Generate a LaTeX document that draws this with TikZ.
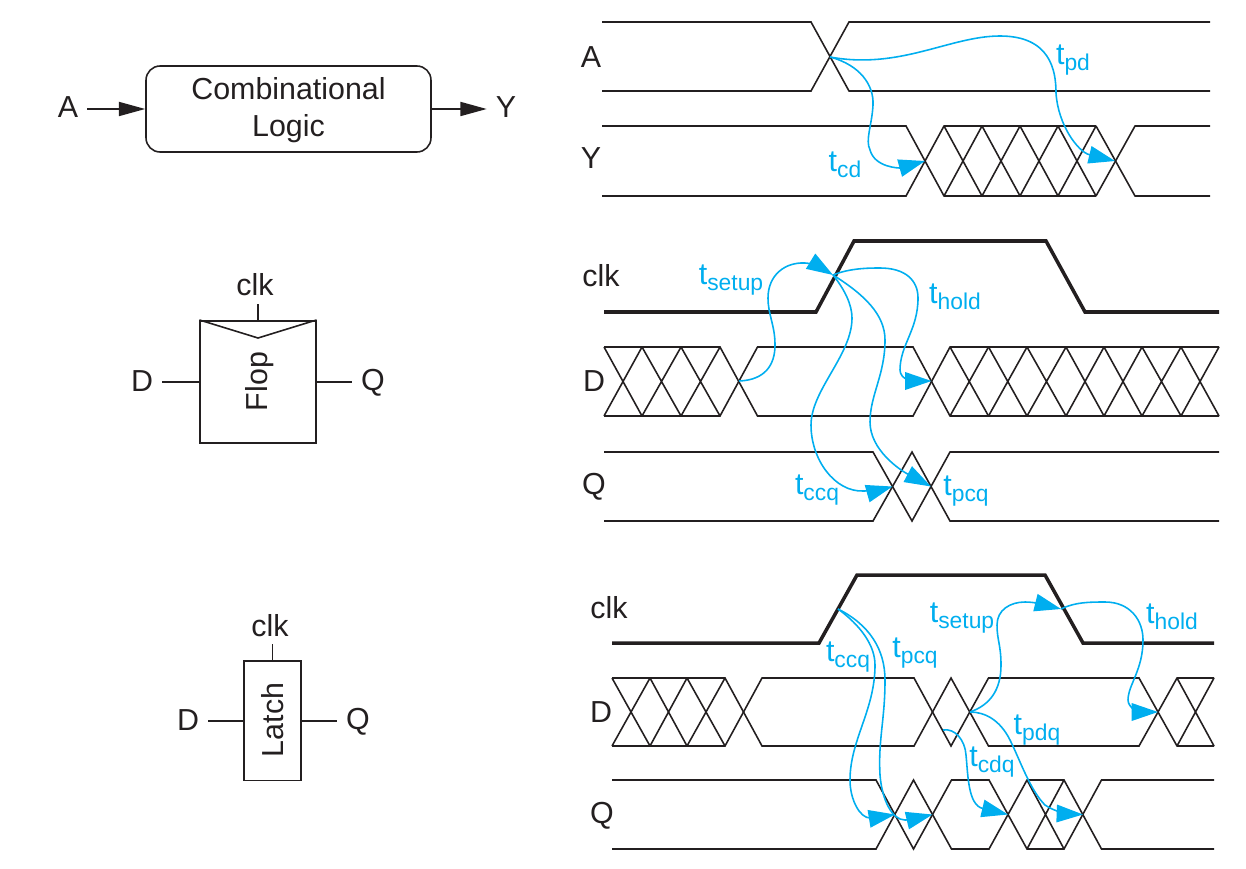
\documentclass[tikz,border=0pt]{standalone}
\usepackage{fontspec}
\usepackage{xcolor}
\usetikzlibrary{arrows.meta}
\setmainfont{Liberation Sans}
\definecolor{inkblack}{HTML}{231F20}
\definecolor{timeblue}{HTML}{00AEEF}
\newcommand{\tlab}[1]{t{\fontsize{13}{14}\selectfont\raisebox{-3.5pt}{#1}}}

\begin{document}
\begin{tikzpicture}[x=0.02cm, y=-0.02cm, color=inkblack, line join=miter,
  every node/.style={font=\fontsize{17.3}{21}\selectfont, inner sep=5pt},
  wave/.style={line width=0.9pt},
  clock/.style={line width=2pt},
  block/.style={draw, line width=0.9pt, align=center},
  arc/.style={timeblue, line width=0.9pt, -{Triangle[length=15pt,width=10pt]}},
  wire/.style={line width=0.9pt},
  tipwire/.style={line width=0.9pt, -{Triangle[length=15pt,width=8pt]}},
  tname/.style={text=timeblue}]
  \useasboundingbox (0,0) rectangle (1246,868);

  % blocks
  \node[block, rounded corners=8pt, minimum width=5.7cm, minimum height=1.72cm] (comb) at (288.5,109) {};
  \node[align=center] (combtext) at (288.5,110.5) {Combinational\\Logic};
  \node (A1) at (68,107) {A};
  \node (Y1) at (506,107) {Y};
  \draw[tipwire] (A1.east |- comb) -- (comb.west);
  \draw[tipwire] (comb.east) -- (Y1.west |- comb);

  \node[block, minimum width=2.31cm, minimum height=2.45cm] (flop) at (258,382) {};
  \node[rotate=90] (floptext) at (259.5,381.5) {Flop};
  \coordinate (notch) at (258,338);
  \draw[wire] (flop.north west) -- (notch) -- (flop.north east);
  \node (clk1) at (255,285) {clk};
  \node (D1) at (142,381) {D};
  \node (Q1) at (373,383) {Q};
  \draw[wire] (258,304) -- (flop.north);
  \draw[wire] (D1.east |- flop) -- (flop.west);
  \draw[wire] (flop.east) -- (Q1.west |- flop);

  \node[block, minimum width=1.14cm, minimum height=2.4cm] (latch) at (272.7,720.7) {};
  \node[rotate=90] (latchtext) at (273,720) {Latch};
  \node (clk2) at (270,626) {clk};
  \node (D2) at (188,720) {D};
  \node (Q2) at (358,722) {Q};
  \draw[wire] (272.7,644) -- (latch.north);
  \draw[wire] (D2.east |- latch) -- (latch.west);
  \draw[wire] (latch.east) -- (Q2.west |- latch);

  % signal names
  \node (Aname) at (591,57) {A};
  \node (Yname) at (591,158) {Y};
  \node (clkname1) at (601,276) {clk};
  \node (Dname1) at (594,381) {D};
  \node (Qname1) at (594,487) {Q};
  \node (clkname2) at (609,608) {clk};
  \node (Dname2) at (601,712) {D};
  \node (Qname2) at (602,816) {Q};

  % first group
  \draw[wave] (602,22) -- (811,22) -- (849,91) -- (1210,91);
  \draw[wave] (602,91) -- (811,91) -- (849,22) -- (1210,22);
  \draw[wave] (602,126) -- (906,126) -- (944,196) -- (1096,196);
  \draw[wave] (602,196) -- (906,196) -- (944,126) -- (1096,126);
  \foreach \a/\b in {944/982,982/1020,1020/1058,1058/1096}
    \draw[wave] (\a,126) -- (\b,196) (\a,196) -- (\b,126);
  \draw[wave] (1096,126) -- (1135,196) -- (1210,196);
  \draw[wave] (1096,196) -- (1135,126) -- (1210,126);

  % second group
  \draw[clock] (604,312) -- (816,312) -- (854,241) -- (1046,241) -- (1085,312) -- (1219,312);
  \draw[wave] (604,347) -- (720,347) -- (757.5,416) -- (913,416) -- (950,347) -- (1219,347);
  \draw[wave] (604,416) -- (720,416) -- (757.5,347) -- (913,347) -- (950,416) -- (1219,416);
  \foreach \a/\b in {604/642,642/681,681/720,950/988.5,988.5/1027,1027/1066,1066/1104,1104/1142,1142/1181,1181/1219}
    \draw[wave] (\a,347) -- (\b,416) (\a,416) -- (\b,347);
  \draw[wave] (604,452) -- (873,452) -- (912,521) -- (950,452) -- (1219,452);
  \draw[wave] (604,521) -- (873,521) -- (912,452) -- (950,521) -- (1219,521);

  % third group
  \draw[clock] (612,643) -- (819,643) -- (857,575) -- (1045,575) -- (1083,643) -- (1214,643);
  \draw[wave] (612,678) -- (725,678) -- (762,746) -- (914,746) -- (951,678) -- (988.5,746) -- (1139,746) -- (1177,678) -- (1214,678);
  \draw[wave] (612,746) -- (725,746) -- (762,678) -- (914,678) -- (951,746) -- (988.5,678) -- (1139,678) -- (1177,746) -- (1214,746);
  \foreach \a/\b in {612/650,650/687,687/725,1177/1214}
    \draw[wave] (\a,678) -- (\b,746) (\a,746) -- (\b,678);
  \draw[wave] (612,780) -- (876,780) -- (913.5,849) -- (951.5,780) -- (989,780) -- (1027,849) -- (1064,849) -- (1101.5,780) -- (1214,780);
  \draw[wave] (612,849) -- (876,849) -- (913.5,780) -- (951.5,849) -- (989,849) -- (1027,780) -- (1064,780) -- (1101.5,849) -- (1214,849);
  \draw[wave] (1027,780) -- (1064,849) (1027,849) -- (1064,780);

  % crossing points
  \coordinate (Across) at (830,57);
  \coordinate (Yfirst) at (925,161);
  \coordinate (Ylast) at (1115,161);
  \coordinate (clkrise1) at (833,275);
  \coordinate (Dleft1) at (739,381);
  \coordinate (Dright1) at (931.5,381);
  \coordinate (Qfirst1) at (892.5,486.5);
  \coordinate (Qlast1) at (931,486.5);
  \coordinate (clkrise2) at (838,609);
  \coordinate (clkfall2) at (1061,609);
  \coordinate (Dcross2) at (970,712);
  \coordinate (Dlast2) at (1158,712);
  \coordinate (Dstart2) at (943,730);
  \coordinate (Qa) at (895,814.5);
  \coordinate (Qb) at (932.5,814.5);
  \coordinate (Qc) at (1008,814.5);
  \coordinate (Qd) at (1083,814.5);

  % delays
  \draw[arc] (Across) .. controls (900,70) and (950,36) .. (1000,36) .. controls (1050,36) and (1056,70) .. (1056,93) .. controls (1058,125) and (1078,152) .. (Ylast);
  \draw[arc] (Across) .. controls (860,65) and (874,85) .. (873,105) .. controls (872,125) and (865,140) .. (870,150) .. controls (875,168) and (900,168) .. (Yfirst);
  \draw[arc] (Dleft1) .. controls (765,380) and (775,365) .. (775,345) .. controls (775,325) and (768,315) .. (768,298) .. controls (768,275) and (785,262) .. (805,263) .. controls (812,263) and (820,267) .. (clkrise1);
  \draw[arc] (clkrise1) .. controls (850,268) and (870,268) .. (880,268) .. controls (905,268) and (918,280) .. (918,298) .. controls (918,330) and (900,345) .. (900,370) .. controls (900,380) and (915,381) .. (Dright1);
  \draw[arc] (clkrise1) .. controls (845,290) and (852,305) .. (852,318) .. controls (852,355) and (811,390) .. (811,425) .. controls (811,460) and (835,492) .. (863,491) .. controls (870,491) and (880,490) .. (Qfirst1);
  \draw[arc] (clkrise1) .. controls (865,295) and (885,315) .. (885,340) .. controls (885,375) and (870,395) .. (870,422) .. controls (870,450) and (900,470) .. (Qlast1);
  \draw[arc] (clkrise2) .. controls (860,625) and (875,645) .. (875,665) .. controls (875,710) and (850,740) .. (850,780) .. controls (850,800) and (860,818) .. (870,818) .. controls (878,818) and (886,816) .. (Qa);
  \draw[arc] (clkrise2) .. controls (870,625) and (885,650) .. (885,680) .. controls (885,720) and (878,740) .. (880,775) .. controls (882,800) and (892,820) .. (905,820) .. controls (913,820) and (922,817) .. (Qb);
  \draw[arc] (Dcross2) .. controls (990,705) and (1001,690) .. (1001,665) .. controls (1001,645) and (997,640) .. (997,625) .. controls (997,610) and (1010,602) .. (1025,602) .. controls (1035,602) and (1045,605) .. (clkfall2);
  \draw[arc] (clkfall2) .. controls (1075,602) and (1090,602) .. (1105,602) .. controls (1130,602) and (1143,620) .. (1143,640) .. controls (1143,670) and (1128,685) .. (1128,700) .. controls (1128,708) and (1140,712) .. (Dlast2);
  \draw[arc] (Dcross2) .. controls (985,712) and (1000,720) .. (1010,740) .. controls (1020,760) and (1030,790) .. (1045,805) .. controls (1055,812) and (1070,814) .. (Qd);
  \draw[arc] (Dstart2) .. controls (955,728) and (965,740) .. (966,755) .. controls (968,775) and (968,805) .. (Qc);

  % delay names
  \node[tname] (tpdA) at (1073,60) {\tlab{pd}};
  \node[tname] (tcdA) at (845,165) {\tlab{cd}};
  \node[tname] (tsetup1) at (731,280) {\tlab{setup}};
  \node[tname] (thold1) at (955,297) {\tlab{hold}};
  \node[tname] (tccq1) at (817,490) {\tlab{ccq}};
  \node[tname] (tpcq1) at (966,491) {\tlab{pcq}};
  \node[tname] (tccq2) at (848,657) {\tlab{ccq}};
  \node[tname] (tpcq2) at (915,653) {\tlab{pcq}};
  \node[tname] (tsetup2) at (962,618) {\tlab{setup}};
  \node[tname] (thold2) at (1172,617) {\tlab{hold}};
  \node[tname] (tpdq2) at (1037,730) {\tlab{pdq}};
  \node[tname] (tcdq2) at (992,762) {\tlab{cdq}};
\end{tikzpicture}
\end{document}
